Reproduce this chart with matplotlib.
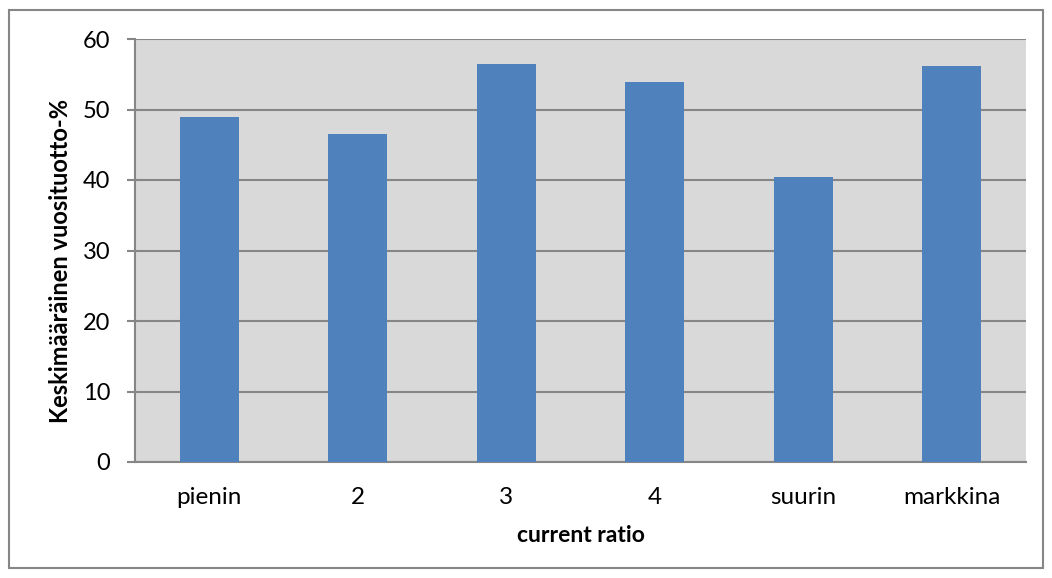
import matplotlib

matplotlib.use("Agg")

from matplotlib import pyplot as plt
from matplotlib.patches import Rectangle

categories = ["pienin", "2", "3", "4", "suurin", "markkina"]
returns = [49.0, 46.5, 56.45, 53.95, 40.4, 56.1]
y_ticks = [0, 10, 20, 30, 40, 50, 60]

COLOR_BAR = "#4F81BD"
COLOR_PLOT_BG = "#D9D9D9"
COLOR_GRID = "#868686"

plt.rcParams["font.family"] = ["Lato", "DejaVu Sans"]

fig = plt.figure(figsize=(10.52, 5.78), dpi=100)
ax = fig.add_axes([135 / 1052, 1 - 462 / 578, (1026 - 135) / 1052, (462 - 39) / 578])

positions = list(range(len(categories)))
ax.bar(positions, returns, width=0.40, color=COLOR_BAR, zorder=3)
ax.set_facecolor(COLOR_PLOT_BG)
ax.set_xlim(-0.5, len(categories) - 0.5)
ax.set_ylim(0, 60)
ax.set_yticks(y_ticks)
ax.yaxis.grid(True, color=COLOR_GRID, linewidth=1.5, zorder=1)
ax.set_axisbelow(True)
ax.set_xticks(positions, categories)
ax.tick_params(axis="x", length=0, labelsize=17.5, pad=18)
ax.tick_params(axis="y", length=5.8, width=1.5, color=COLOR_GRID, labelsize=17, pad=12)
for side in ["top", "right"]:
    ax.spines[side].set_visible(False)
for side in ["left", "bottom"]:
    ax.spines[side].set_color(COLOR_GRID)
    ax.spines[side].set_linewidth(1.5)

ax.set_xlabel("current ratio", fontsize=16.5, fontweight="bold", labelpad=12)
ax.set_ylabel("Keskimääräinen vuosituotto-%", fontsize=17, fontweight="bold", labelpad=8)
ax.yaxis.label.set_y(0.475)

fig.patches.append(
    Rectangle(
        (9 / 1052, 1 - 568 / 578),
        (1043 - 9) / 1052,
        (568 - 10) / 578,
        transform=fig.transFigure,
        fill=False,
        edgecolor="#868686",
        linewidth=1.5,
    )
)

fig.savefig("out.png", dpi=100)
